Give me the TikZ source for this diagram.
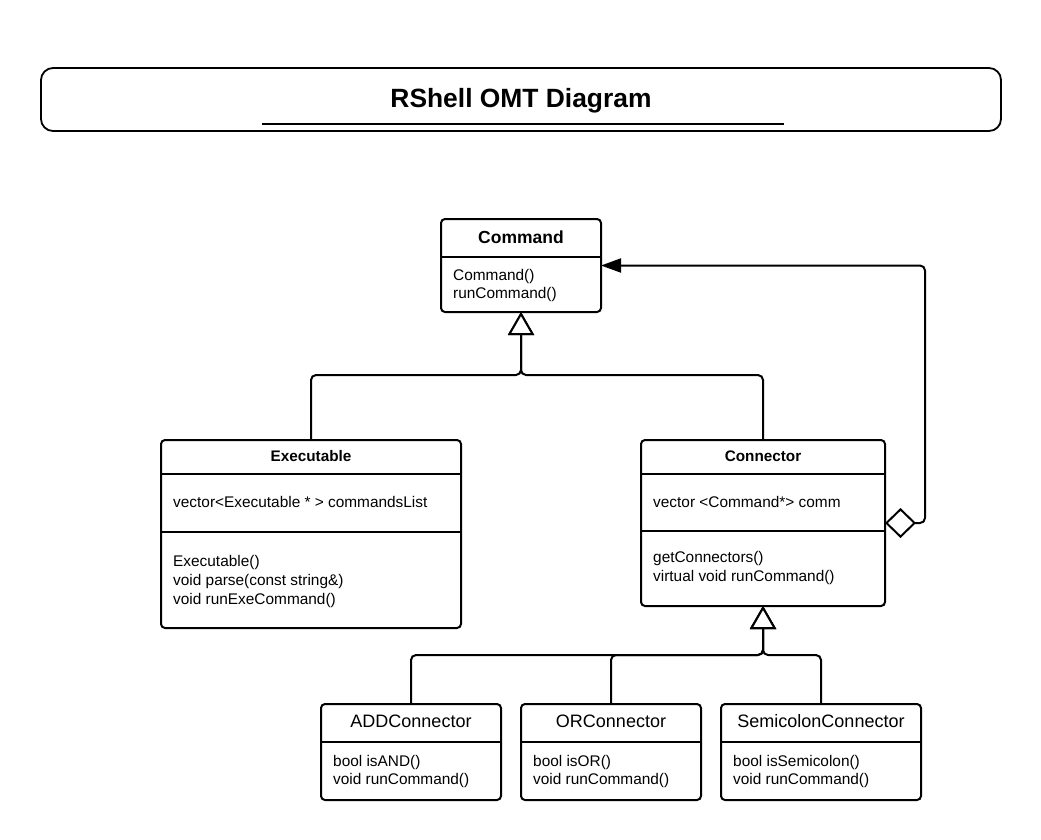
\documentclass[tikz,border=0pt]{standalone}
\usepackage{fontspec}
\setmainfont{Liberation Sans}
\usetikzlibrary{arrows.meta}
\begin{document}
\begin{tikzpicture}[x=1pt,y=-1pt,
  umlbox/.style={draw, line width=2pt, rounded corners=4pt, inner sep=0pt, outer sep=0pt, anchor=north west},
  link/.style={line width=2pt, rounded corners=5pt},
  divider/.style={line width=2pt},
  txt/.style={inner sep=0pt, anchor=base west, font=\fontsize{15.4}{18}\selectfont},
  hdr/.style={inner sep=0pt, anchor=base, font=\bfseries\fontsize{15.3}{18}\selectfont},
  subhdr/.style={inner sep=0pt, anchor=base, font=\fontsize{18}{21}\selectfont},
  gen/.style={-{Triangle[open, length=23pt, width=26pt, fill=white]}}
]
\useasboundingbox (0,0) rectangle (1041,839);

% title
\node[draw, line width=1.8pt, rounded corners=12pt, inner sep=0pt, outer sep=0pt, anchor=north west,
      minimum width=960pt, minimum height=63pt] (titlebox) at (41,68) {};
\node[inner sep=0pt, anchor=base, font=\bfseries\fontsize{26.4}{30}\selectfont] (title) at (521,107) {RShell OMT Diagram};
\coordinate (ul1) at (262,124);
\coordinate (ul2) at (784,124);
\draw[line width=2.5pt] (ul1) -- (ul2);

% Command
\node[umlbox, minimum width=160pt, minimum height=93pt] (cmd) at (441,219) {};
\draw[divider] ([yshift=-38pt]cmd.north west) -- ([yshift=-38pt]cmd.north east);
\node[hdr, font=\bfseries\fontsize{17.5}{20}\selectfont] (cmdt) at (521,243) {Command};
\node[txt] (cmdm1) at (453,280.5) {Command()};
\node[txt] (cmdm2) at (453,298.5) {runCommand()};

% Executable
\node[umlbox, minimum width=300pt, minimum height=188pt] (exe) at (161,440) {};
\draw[divider] ([yshift=-34pt]exe.north west) -- ([yshift=-34pt]exe.north east);
\draw[divider] ([yshift=-92pt]exe.north west) -- ([yshift=-92pt]exe.north east);
\node[hdr] (exet) at (311,461) {Executable};
\node[txt] (exea) at (173,507.5) {vector<Executable * > commandsList};
\node[txt] (exem1) at (173,566) {Executable()};
\node[txt] (exem2) at (173,585) {void parse(const string\&)};
\node[txt] (exem3) at (173,604) {void runExeCommand()};

% Connector
\node[umlbox, minimum width=244pt, minimum height=166pt] (cnr) at (641,440) {};
\draw[divider] ([yshift=-34pt]cnr.north west) -- ([yshift=-34pt]cnr.north east);
\draw[divider] ([yshift=-91pt]cnr.north west) -- ([yshift=-91pt]cnr.north east);
\node[hdr] (cnrt) at (763,461) {Connector};
\node[txt] (cnra) at (653,507) {vector <Command*> comm};
\node[txt] (cnrm1) at (653,562) {getConnectors()};
\node[txt] (cnrm2) at (653,581) {virtual void runCommand()};

% children
\node[umlbox, minimum width=180pt, minimum height=96pt] (add) at (321,704) {};
\draw[divider] ([yshift=-38pt]add.north west) -- ([yshift=-38pt]add.north east);
\node[subhdr] (addt) at (411,727.5) {ADDConnector};
\node[txt] (addm1) at (333,766) {bool isAND()};
\node[txt] (addm2) at (333,784.5) {void runCommand()};

\node[umlbox, minimum width=180pt, minimum height=96pt] (orc) at (521,704) {};
\draw[divider] ([yshift=-38pt]orc.north west) -- ([yshift=-38pt]orc.north east);
\node[subhdr] (orct) at (611,727.5) {ORConnector};
\node[txt] (orcm1) at (533,766) {bool isOR()};
\node[txt] (orcm2) at (533,784.5) {void runCommand()};

\node[umlbox, minimum width=200pt, minimum height=96pt] (semi) at (721,704) {};
\draw[divider] ([yshift=-38pt]semi.north west) -- ([yshift=-38pt]semi.north east);
\node[subhdr] (semit) at (821,727.5) {SemicolonConnector};
\node[txt] (semim1) at (733,766) {bool isSemicolon()};
\node[txt] (semim2) at (733,784.5) {void runCommand()};

% connectors
\coordinate (j1) at (521,375);
\coordinate (j2) at (763,655);
\coordinate (ag) at (925,523);
\draw[link, gen] (exe.north) |- (j1) -- (cmd.south);
\draw[link, gen] (cnr.north) |- (j1) -- (cmd.south);
\draw[link, gen] (add.north) |- (j2) -- (cnr.south);
\draw[link, gen] (orc.north) |- (j2) -- (cnr.south);
\draw[link, gen] (semi.north) |- (j2) -- (cnr.south);
\draw[link, {Diamond[open, length=31pt, width=30pt, fill=white]}-{Triangle[length=20pt, width=14pt]}]
  (cnr.east) -- (ag) |- (cmd.east);
\end{tikzpicture}
\end{document}
